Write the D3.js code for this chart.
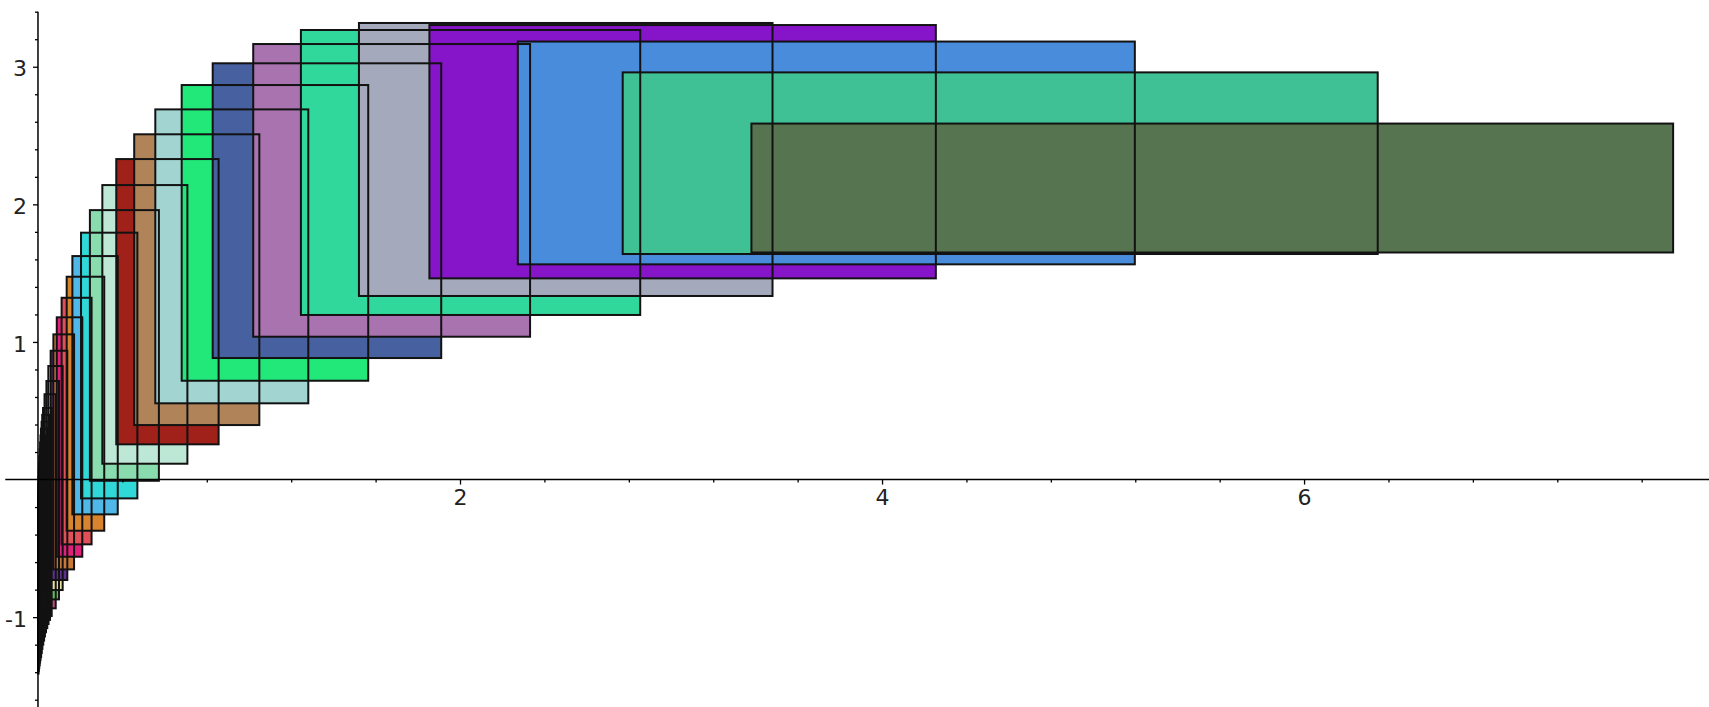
<!DOCTYPE html>
<html>
<head>
<meta charset="utf-8">
<script src="https://cdn.jsdelivr.net/npm/d3@7"></script>
<style>
  html, body { margin: 0; padding: 0; background: #fff; }
  svg { display: block; }
</style>
</head>
<body>
<div id="chart"></div>
<script>
// rectangles, largest first (index 0 is drawn on top)
const rectLeft   = [3.381, 2.771, 2.274, 1.855, 1.521, 1.246, 1.020, 0.828, 0.681, 0.556, 0.456, 0.371,
  0.305, 0.246, 0.204, 0.163, 0.136, 0.112, 0.089, 0.073, 0.060, 0.049, 0.040, 0.031, 0.024,
  0.020, 0.017, 0.014, 0.012, 0.010, 0.008, 0.0065, 0.005, 0.004, 0.003, 0.0022, 0.0016, 0.0011, 0.0007, 0.0004, 0.0002];
const rectRight  = [7.749, 6.349, 5.198, 4.255, 3.481, 2.854, 2.332, 1.911, 1.565, 1.281, 1.049, 0.856,
  0.708, 0.573, 0.471, 0.378, 0.314, 0.254, 0.210, 0.171, 0.139, 0.117, 0.0995, 0.084, 0.065,
  0.057, 0.050, 0.044, 0.038, 0.033, 0.029, 0.025, 0.021, 0.018, 0.015, 0.012, 0.010, 0.008, 0.006, 0.0045, 0.003];
const rectTop    = [2.587, 2.959, 3.183, 3.303, 3.318, 3.267, 3.165, 3.025, 2.867, 2.690, 2.509, 2.329,
  2.140, 1.958, 1.794, 1.624, 1.474, 1.321, 1.179, 1.055, 0.936, 0.825, 0.716, 0.62, 0.52,
  0.47, 0.42, 0.37, 0.32, 0.27, 0.22, 0.17, 0.12, 0.07, 0.02, -0.03, -0.08, -0.13, -0.18, -0.23, -0.28];
const rectBottom = [1.650, 1.639, 1.564, 1.462, 1.334, 1.196, 1.038, 0.883, 0.718, 0.554, 0.396, 0.256,
  0.115, -0.009, -0.137, -0.253, -0.372, -0.471, -0.561, -0.653, -0.730, -0.803, -0.871, -0.936, -0.992,
  -1.02, -1.05, -1.08, -1.11, -1.14, -1.17, -1.20, -1.23, -1.26, -1.29, -1.31, -1.33, -1.35, -1.37, -1.39, -1.41];
const rectColors = ['#577450', '#40c095', '#4a8cdc', '#8614c8', '#a4aabb', '#31d89c', '#a873ae', '#4760a0',
  '#22e87a', '#a2d4d2', '#b08458', '#a0201a', '#bde8d5', '#88dcae', '#30d8d8', '#50b8e8', '#d8842e',
  '#e05058', '#e0207a', '#c87838', '#603090', '#e8e0a0', '#60c060', '#c05080', '#4060c0', '#c0a060',
  '#8040a0', '#40a0a0', '#d06060', '#60a040', '#a0a0d0', '#d0a040', '#5050a0', '#a06040', '#50a080',
  '#c06090', '#7070c0', '#b0b050', '#a05050', '#60b0b0', '#9050a0'];

const xMajorTicks = [2, 4, 6];
const yMajorTicks = [-1, 1, 2, 3];

const width = 1709;
const height = 707;

const x = d3.scaleLinear().domain([-0.18, 7.919]).range([0, width]);
const y = d3.scaleLinear().domain([-1.653, 3.485]).range([height, 0]);

const rects = rectLeft.map((l, i) => ({
  i, x0: l, x1: rectRight[i], y0: rectBottom[i], y1: rectTop[i], color: rectColors[i]
}));

const svg = d3.select('#chart').append('svg')
  .attr('width', width)
  .attr('height', height);

svg.append('rect').attr('width', width).attr('height', height).attr('fill', '#fff');

// fills: smallest first so the big ones end up on top
const drawOrder = rects.slice().reverse();
svg.append('g').selectAll('rect').data(drawOrder).enter()
  .append('rect')
    .attr('x', d => x(d.x0))
    .attr('y', d => y(d.y1))
    .attr('width', d => x(d.x1) - x(d.x0))
    .attr('height', d => y(d.y0) - y(d.y1))
    .attr('fill', d => d.color);

// outlines go over every fill
svg.append('g').selectAll('rect').data(drawOrder).enter()
  .append('rect')
    .attr('x', d => x(d.x0))
    .attr('y', d => y(d.y1))
    .attr('width', d => x(d.x1) - x(d.x0))
    .attr('height', d => y(d.y0) - y(d.y1))
    .attr('fill', 'none')
    .attr('stroke', '#121212')
    .attr('stroke-width', 2);

// axes through the origin
const xMinor = d3.range(0.4, 7.9, 0.4).filter(v => !xMajorTicks.some(t => Math.abs(t - v) < 1e-6));
const yMinor = d3.range(-1.6, 3.45, 0.2).filter(v => Math.abs(v) > 1e-6 && !yMajorTicks.some(t => Math.abs(t - v) < 1e-6));

const xAxis = svg.append('g').attr('transform', `translate(0,${y(0)})`);
xAxis.append('line')
  .attr('x1', x(-0.155)).attr('x2', width)
  .attr('stroke', '#000').attr('stroke-width', 1.5);
xAxis.append('g').call(d3.axisBottom(x).tickValues(xMinor).tickSize(3).tickFormat(''))
  .call(g => g.select('.domain').remove())
  .call(g => g.selectAll('line').attr('stroke-width', 1.3));
xAxis.append('g').call(d3.axisBottom(x).tickValues(xMajorTicks).tickSize(5).tickPadding(5))
  .call(g => g.select('.domain').remove())
  .call(g => g.selectAll('line').attr('stroke-width', 1.3))
  .call(g => g.selectAll('text')
    .style('font-family', '"DejaVu Sans", sans-serif')
    .style('font-size', '22px')
    .attr('fill', '#222'));

const yAxis = svg.append('g').attr('transform', `translate(${x(0)},0)`);
yAxis.append('line')
  .attr('y1', y(3.40)).attr('y2', height)
  .attr('stroke', '#000').attr('stroke-width', 1.5);
yAxis.append('g').call(d3.axisLeft(y).tickValues(yMinor).tickSize(3).tickFormat(''))
  .call(g => g.select('.domain').remove())
  .call(g => g.selectAll('line').attr('stroke-width', 1.3));
yAxis.append('g').call(d3.axisLeft(y).tickValues(yMajorTicks).tickSize(5).tickPadding(6)
    .tickFormat(d => d < 0 ? '-' + Math.abs(d) : d))
  .call(g => g.select('.domain').remove())
  .call(g => g.selectAll('line').attr('stroke-width', 1.3))
  .call(g => g.selectAll('text')
    .attr('dy', '0.42em')
    .style('font-family', '"DejaVu Sans", sans-serif')
    .style('font-size', '22px')
    .attr('fill', '#222'));
</script>
</body>
</html>
